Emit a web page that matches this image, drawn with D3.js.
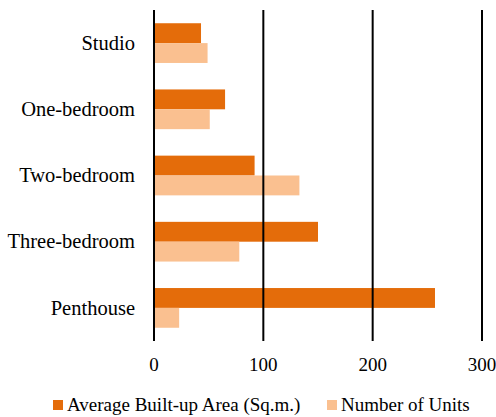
<!DOCTYPE html>
<html>
<head>
<meta charset="utf-8">
<script src="https://cdn.jsdelivr.net/npm/d3@7"></script>
<style>
  body { margin: 0; background: #fff; }
  text { font-family: "Liberation Serif", serif; fill: #000; }
</style>
</head>
<body>
<div id="chart"></div>
<script>
var categories = ["Studio", "One-bedroom", "Two-bedroom", "Three-bedroom", "Penthouse"];
var seriesNames = ["Average Built-up Area (Sq.m.)", "Number of Units"];
var areaValues = [43, 65, 92, 150, 257];
var unitValues = [49, 51, 133, 78, 23];
var tickValues = [0, 100, 200, 300];
var colors = ["#E46C0A", "#FAC090"];

var width = 496, height = 417;

var svg = d3.select("#chart").append("svg")
    .attr("width", width)
    .attr("height", height);

var x = d3.scaleLinear().domain([0, 300]).range([154, 482]);

var y = d3.scaleBand()
    .domain(categories)
    .range([10, 341])
    .paddingInner(0.4)
    .paddingOuter(0.2);

var ySub = d3.scaleBand()
    .domain(seriesNames)
    .range([0, y.bandwidth()]);

var rows = categories.map(function(c, i) {
  return { cat: c, vals: [areaValues[i], unitValues[i]] };
});

// bars
var grp = svg.selectAll("g.row")
    .data(rows)
    .enter().append("g")
    .attr("class", "row")
    .attr("transform", function(d) { return "translate(0," + y(d.cat) + ")"; });

grp.selectAll("rect")
    .data(function(d) { return d.vals.map(function(v, j) { return { s: seriesNames[j], v: v, j: j }; }); })
    .enter().append("rect")
    .attr("x", x(0))
    .attr("y", function(d) { return ySub(d.s); })
    .attr("width", function(d) { return x(d.v) - x(0); })
    .attr("height", ySub.bandwidth())
    .attr("fill", function(d) { return colors[d.j]; });

// vertical gridlines (drawn over bars like the original)
svg.selectAll("line.grid")
    .data(tickValues)
    .enter().append("line")
    .attr("class", "grid")
    .attr("x1", function(d) { return x(d); })
    .attr("x2", function(d) { return x(d); })
    .attr("y1", 10)
    .attr("y2", 341)
    .attr("stroke", "#000")
    .attr("stroke-width", 2);

// x tick labels
svg.selectAll("text.tick")
    .data(tickValues)
    .enter().append("text")
    .attr("class", "tick")
    .attr("x", function(d) { return x(d); })
    .attr("y", 371)
    .attr("text-anchor", "middle")
    .style("font-size", "19px")
    .text(function(d) { return d; });

// category labels
svg.selectAll("text.cat")
    .data(categories)
    .enter().append("text")
    .attr("class", "cat")
    .attr("x", 135)
    .attr("y", function(d) { return y(d) + y.bandwidth() / 2; })
    .attr("dy", "0.33em")
    .attr("text-anchor", "end")
    .style("font-size", "20.5px")
    .text(function(d) { return d; });

// legend
var legendX = [53, 327];
var leg = svg.selectAll("g.legend")
    .data(seriesNames)
    .enter().append("g")
    .attr("class", "legend")
    .attr("transform", function(d, i) { return "translate(" + legendX[i] + ",400)"; });

leg.append("rect")
    .attr("width", 10)
    .attr("height", 10)
    .attr("fill", function(d, i) { return colors[i]; });

leg.append("text")
    .attr("x", 14)
    .attr("y", 11)
    .style("font-size", "19px")
    .text(function(d) { return d; });
</script>
</body>
</html>
